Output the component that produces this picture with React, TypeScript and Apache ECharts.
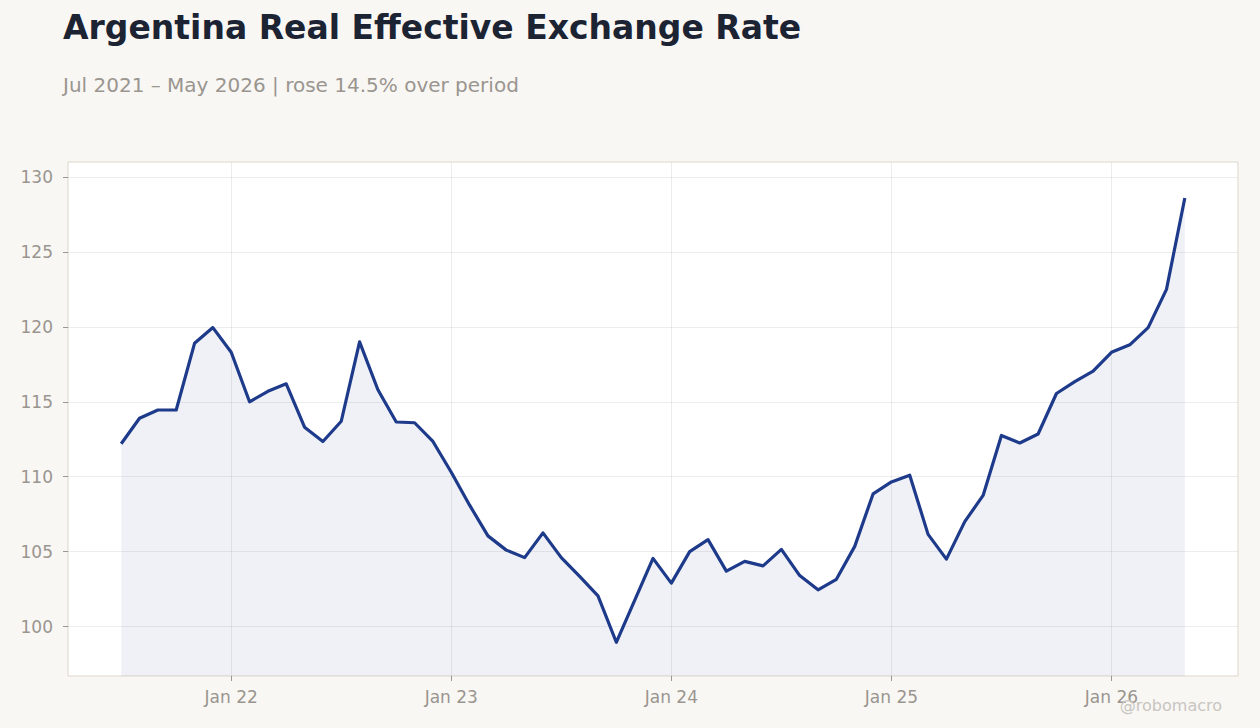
import React, { useEffect, useRef } from "react";
import * as echarts from "echarts";

const titleText = "Argentina Real Effective Exchange Rate";
const subtitleText = "Jul 2021 – May 2026 | rose 14.5% over period";
const watermark = "@robomacro";

const months = [
  "2021-07", "2021-08", "2021-09", "2021-10", "2021-11", "2021-12",
  "2022-01", "2022-02", "2022-03", "2022-04", "2022-05", "2022-06",
  "2022-07", "2022-08", "2022-09", "2022-10", "2022-11", "2022-12",
  "2023-01", "2023-02", "2023-03", "2023-04", "2023-05", "2023-06",
  "2023-07", "2023-08", "2023-09", "2023-10", "2023-11", "2023-12",
  "2024-01", "2024-02", "2024-03", "2024-04", "2024-05", "2024-06",
  "2024-07", "2024-08", "2024-09", "2024-10", "2024-11", "2024-12",
  "2025-01", "2025-02", "2025-03", "2025-04", "2025-05", "2025-06",
  "2025-07", "2025-08", "2025-09", "2025-10", "2025-11", "2025-12",
  "2026-01", "2026-02", "2026-03", "2026-04", "2026-05",
];

const reer = [
  112.2, 113.9, 114.45, 114.45, 118.9, 119.95,
  118.3, 115.0, 115.7, 116.2, 113.3, 112.35,
  113.7, 119.0, 115.8, 113.65, 113.6, 112.35,
  110.3, 108.1, 106.05, 105.1, 104.6, 106.25,
  104.6, 103.35, 102.05, 98.95, 101.75, 104.55,
  102.9, 105.0, 105.8, 103.7, 104.35, 104.05,
  105.15, 103.4, 102.45, 103.15, 105.35, 108.85,
  109.65, 110.1, 106.15, 104.5, 107.0, 108.75,
  112.75, 112.25, 112.85, 115.55, 116.35, 117.05,
  118.3, 118.8, 119.95, 122.5, 128.6,
];

const yTicks = [100, 105, 110, 115, 120, 125, 130];
const xTickMonths = ["2022-01", "2023-01", "2024-01", "2025-01", "2026-01"];
const xTickLabels = ["Jan 22", "Jan 23", "Jan 24", "Jan 25", "Jan 26"];

const toX = (m: string) => {
  const [y, mo] = m.split("-").map(Number);
  return y + (mo - 1) / 12;
};

const FONT = "DejaVu Sans";
const LABEL_COLOR = "#9a958f";

export default function App() {
  const ref = useRef<HTMLDivElement>(null);

  useEffect(() => {
    if (!ref.current) return;
    const chart = echarts.init(ref.current, null, { renderer: "svg" });
    const data = months.map((m, i) => [toX(m), reer[i]]);
    const xTickVals = xTickMonths.map(toX);
    const xLabelMap: Record<string, string> = {};
    xTickVals.forEach((v, i) => (xLabelMap[v.toFixed(4)] = xTickLabels[i]));
    const xs = data.map((d) => d[0]);
    const xMin = Math.min(...xs);
    const xMax = Math.max(...xs);
    const pad = (xMax - xMin) * 0.05;

    chart.setOption({
      animation: false,
      backgroundColor: "#f8f7f4",
      title: [
        {
          text: titleText,
          left: 63,
          top: 11,
          padding: 0,
          textStyle: {
            fontFamily: FONT,
            fontWeight: "bold",
            fontSize: 33,
            color: "#1c2333",
          },
        },
        {
          text: subtitleText,
          left: 63,
          top: 75,
          padding: 0,
          textStyle: {
            fontFamily: FONT,
            fontWeight: "normal",
            fontSize: 20,
            color: "#9a958f",
          },
        },
      ],
      graphic: [
        {
          type: "text",
          right: 38,
          top: 697,
          style: {
            text: watermark,
            fontFamily: FONT,
            fontSize: 16,
            fill: "#c9c5c0",
          },
          z: 100,
        },
      ],
      grid: {
        left: 68,
        right: 22,
        top: 162,
        bottom: 52,
        show: true,
        backgroundColor: "#ffffff",
        borderColor: "#ddd6cc",
        borderWidth: 1,
      },
      xAxis: {
        type: "value",
        min: xMin - pad,
        max: xMax + pad,
        axisLine: { show: false },
        axisTick: {
          show: true,
          length: 5,
          lineStyle: { color: LABEL_COLOR, width: 1 },
          customValues: xTickVals,
        },
        axisLabel: {
          customValues: xTickVals,
          margin: 12,
          fontFamily: FONT,
          fontSize: 17,
          color: LABEL_COLOR,
          formatter: (v: number) => xLabelMap[v.toFixed(4)] ?? "",
        },
        splitLine: {
          show: true,
          lineStyle: { color: "rgba(0,0,0,0.07)", width: 1 },
        },
      },
      yAxis: {
        type: "value",
        min: 96.7,
        max: 131,
        axisLine: { show: false },
        axisTick: {
          show: true,
          length: 5,
          lineStyle: { color: LABEL_COLOR, width: 1 },
          customValues: yTicks,
        },
        axisLabel: {
          customValues: yTicks,
          margin: 15,
          fontFamily: FONT,
          fontSize: 17,
          color: LABEL_COLOR,
        },
        splitLine: {
          show: true,
          lineStyle: { color: "rgba(0,0,0,0.07)", width: 1 },
        },
      },
      series: [
        {
          type: "line",
          data,
          showSymbol: false,
          symbol: "none",
          lineStyle: { color: "#1e3a8a", width: 3.2, join: "round" },
          areaStyle: { color: "rgba(30,58,138,0.1)", origin: "start" },
          z: 3,
        },
      ],
    });
    return () => chart.dispose();
  }, []);

  return (
    <div
      ref={ref}
      style={{ position: "fixed", left: 0, top: 0, width: 1260, height: 728 }}
    />
  );
}
